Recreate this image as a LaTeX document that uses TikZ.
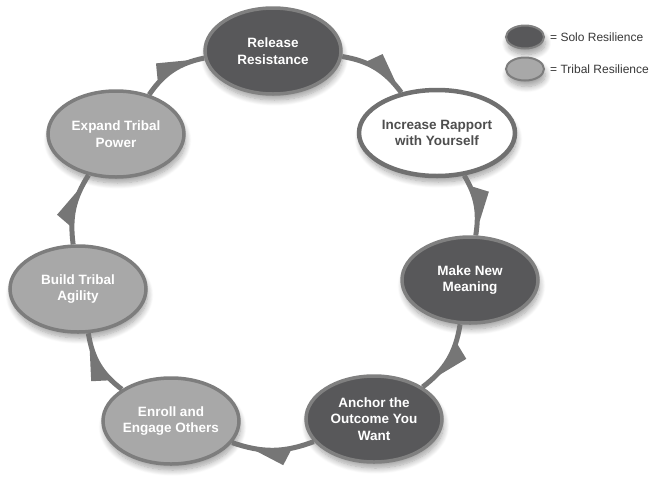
\documentclass[tikz,border=0pt]{standalone}
\usepackage{fontspec}
\setmainfont{Liberation Sans}
\usetikzlibrary{shapes.geometric,decorations.markings,shadows.blur}
\definecolor{darkfill}{RGB}{88,88,90}
\definecolor{darkedge}{RGB}{128,128,128}
\definecolor{lightfill}{RGB}{168,168,168}
\definecolor{lightedge}{RGB}{125,125,125}
\definecolor{whiteedge}{RGB}{112,112,112}
\definecolor{ringcol}{RGB}{118,118,118}
\definecolor{txtdark}{RGB}{78,78,78}
\definecolor{legtxt}{RGB}{55,55,55}
\tikzset{
  shadowed/.style={blur shadow={shadow xshift=1.5pt, shadow yshift=-6pt, shadow blur steps=10, shadow opacity=38, shadow blur radius=6pt}},
  stage/.style={ellipse, minimum width=136pt, minimum height=86pt, inner sep=0pt, align=center,
    font=\bfseries\fontsize{13.5}{16.5}\selectfont, line width=3.5pt, shadowed},
  solo/.style={stage, fill=darkfill, draw=darkedge, text=white},
  tribal/.style={stage, fill=lightfill, draw=lightedge, text=white},
  selfst/.style={stage, fill=white, draw=whiteedge, line width=4.5pt, text=txtdark},
  legsolo/.style={ellipse, minimum width=38pt, minimum height=23pt, inner sep=0pt, fill=darkfill, draw=darkedge, line width=2pt, shadowed},
  legtribal/.style={ellipse, minimum width=38pt, minimum height=23pt, inner sep=0pt, fill=lightfill, draw=lightedge, line width=2pt, shadowed},
  legtext/.style={anchor=west, inner sep=0pt, text=legtxt, font=\fontsize{12}{14}\selectfont},
  flow/.style={draw=ringcol, line width=5pt, postaction={decorate},
    decoration={markings, mark=at position #1 with {\fill[ringcol] (18pt,0pt) -- (-18pt,0pt) -- (-10pt,15pt) -- cycle;}}},
  flow/.default=0.5
}
\begin{document}
\begin{tikzpicture}[x=1pt,y=1pt]
\useasboundingbox (0,0) rectangle (650,-488);
\node[solo]   (release) at (273,-51)  {Release\\Resistance};
\node[selfst] (rapport) at (437,-133) {Increase Rapport\\with Yourself};
\node[solo]   (meaning) at (470,-280) {Make New\\Meaning};
\node[solo]   (anchor)  at (374,-419) {Anchor the\\Outcome You\\Want};
\node[tribal] (enroll)  at (171,-421) {Enroll and\\Engage Others};
\node[tribal] (agility) at (78,-289)  {Build Tribal\\Agility};
\node[tribal] (power)   at (116,-134) {Expand Tribal\\Power};

\draw[flow=0.6] (release) to[bend left=22] (rapport);
\draw[flow] (rapport) to[bend left=20] (meaning);
\draw[flow] (meaning) to[bend left=22] (anchor);
\draw[flow] (anchor) to[bend left=20] (enroll);
\draw[flow] (enroll) to[bend left=22] (agility);
\draw[flow] (agility) to[bend left=20] (power);
\draw[flow] (power) to[bend left=22] (release);

\node[legsolo]   (lsolo)   at (525,-37) {};
\node[legtribal] (ltribal) at (525,-69) {};
\node[legtext] (tsolo)   at (550,-37) {= Solo Resilience};
\node[legtext] (ttribal) at (550,-69) {= Tribal Resilience};
\end{tikzpicture}
\end{document}
